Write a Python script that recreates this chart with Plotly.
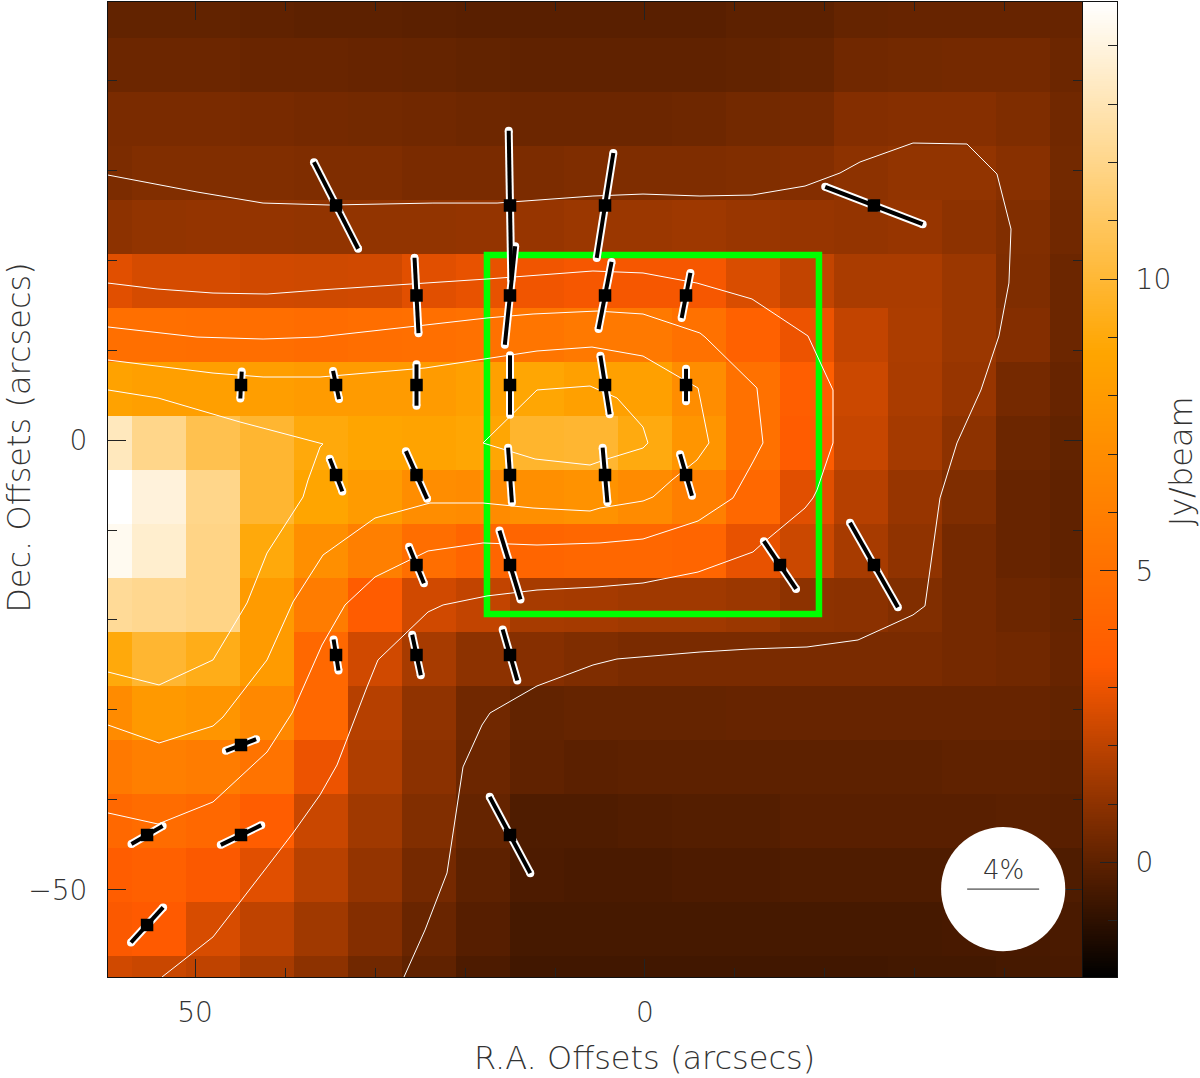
import numpy as np
import plotly.graph_objects as go

# map grid (arcsec), rows run top to bottom, columns left to right (R.A. increases to the left)
ra_centers = [60, 54, 48, 42, 36, 30, 24, 18, 12, 6, 0, -6, -12, -18, -24, -30, -36, -42, -48]
dec_centers = [47.67, 41.67, 35.67, 29.67, 23.67, 17.67, 11.67, 5.67, -0.33, -6.33, -12.33,
               -18.33, -24.33, -30.33, -36.33, -42.33, -48.33, -54.33, -60.33]

flux = [
    [0.1, 0.1, 0.1, 0.05, 0, 0, -0.05, -0.1, -0.1, -0.1, -0.1, -0.1, 0, 0, 0.15, 0.2, 0.2, 0.2, 0.2],
    [0.3, 0.3, 0.3, 0.25, 0.25, 0.2, 0.15, 0.1, 0.05, 0.05, 0.05, 0.05, 0.1, 0.15, 0.4, 0.45, 0.5, 0.5, 0.3],
    [0.6, 0.6, 0.6, 0.55, 0.5, 0.45, 0.4, 0.35, 0.3, 0.3, 0.3, 0.35, 0.45, 0.5, 0.8, 0.85, 0.85, 0.7, 0.4],
    [0.65, 0.75, 0.75, 0.75, 0.7, 0.7, 0.6, 0.6, 0.65, 0.7, 0.7, 0.7, 0.75, 0.8, 1.0, 1.1, 1.1, 0.9, 0.45],
    [1.0, 1.1, 1.15, 1.15, 1.1, 1.1, 1.1, 1.15, 1.2, 1.3, 1.3, 1.35, 1.25, 1.2, 1.15, 1.2, 1.0, 0.75, 0.4],
    [2.75, 2.5, 2.5, 2.4, 2.35, 2.4, 2.75, 2.9, 3.1, 3.2, 3.2, 3.2, 2.6, 2.1, 1.6, 1.6, 1.3, 0.7, 0.3],
    [4.9, 4.9, 4.8, 4.8, 4.7, 4.8, 4.9, 5.0, 5.3, 5.6, 5.6, 5.0, 3.9, 3.0, 2.1, 1.65, 1.3, 0.8, 0.3],
    [8.5, 8.3, 8.3, 8.2, 8.0, 8.0, 8.0, 8.4, 8.8, 8.4, 8.4, 7.0, 5.0, 3.7, 2.3, 1.6, 1.2, 0.5, 0.2],
    [13.2, 12.0, 10.6, 9.9, 9.0, 8.7, 8.6, 8.8, 9.8, 9.9, 9.1, 7.6, 5.0, 3.5, 2.2, 1.5, 1.0, 0.3, 0.1],
    [14.75, 13.9, 12.0, 9.9, 8.7, 8.0, 7.0, 6.9, 7.2, 7.4, 6.9, 6.0, 4.4, 2.75, 1.85, 1.2, 0.7, 0.2, 0.05],
    [14.4, 13.6, 11.9, 9.0, 7.2, 6.0, 4.8, 4.2, 4.2, 4.3, 4.3, 4.2, 2.9, 2.3, 1.55, 1.05, 0.5, 0.2, 0.05],
    [12.3, 12.1, 11.9, 8.0, 5.8, 3.5, 2.4, 2.1, 1.55, 1.5, 1.4, 1.4, 1.3, 1.0, 0.95, 0.75, 0.5, 0.3, 0.15],
    [9.0, 9.9, 9.3, 8.0, 4.4, 2.4, 1.55, 1.0, 0.85, 0.7, 0.6, 0.6, 0.6, 0.6, 0.6, 0.6, 0.5, 0.4, 0.2],
    [6.9, 7.9, 7.6, 6.7, 4.4, 1.85, 1.05, 0.4, 0.1, 0.15, 0.15, 0.15, 0.2, 0.2, 0.2, 0.2, 0.2, 0.2, 0.1],
    [5.6, 6.0, 5.8, 5.2, 3.0, 1.7, 0.95, 0.3, 0.05, -0.05, 0, 0, 0, 0, 0, 0, 0.05, 0.05, 0],
    [4.4, 4.7, 4.4, 3.6, 2.25, 1.4, 0.75, 0.15, -0.3, -0.3, -0.25, -0.2, -0.2, -0.1, -0.1, -0.1, -0.1, -0.05, -0.1],
    [3.6, 3.8, 3.3, 2.75, 1.9, 1.15, 0.5, 0, -0.35, -0.4, -0.4, -0.35, -0.35, -0.3, -0.3, -0.3, -0.3, -0.25, -0.3],
    [3.3, 3.4, 2.55, 2.05, 1.4, 0.8, 0.25, -0.15, -0.5, -0.5, -0.5, -0.5, -0.5, -0.5, -0.5, -0.5, -0.45, -0.45, -0.4],
    [2.4, 2.25, 2.05, 1.55, 1.0, 0.4, 0.05, -0.35, -0.6, -0.6, -0.6, -0.6, -0.6, -0.6, -0.6, -0.55, -0.55, -0.5, -0.45],
]

z_min, z_max = -1.96, 14.75
heat_colors = [[0, "#000000"], [0.32, "#ff5a00"], [0.64, "#ffa500"], [1, "#ffffff"]]

# contour polylines (arcsec)
c1_x = [59.67, 49.78, 42.44, 35.0, 23.56, 16.44, 5.78, 0.22, -6.11, -11.89, -17.78, -21.67, -23.89, -29.78,
        -35.78, -39.11, -40.67, -40.44, -39.33, -37.33, -34.67, -32.78, -31.11, -29.78, -23.67, -18.0, -11.67,
        -6.11, 3.11, 5.78, 12.0, 17.22, 18.11, 20.22, 22.0, 24.44, 26.78]
c1_y = [29.44, 27.56, 26.33, 26.11, 26.33, 26.33, 27.11, 27.33, 27.11, 27.22, 28.22, 29.67, 30.89, 33.0,
        32.89, 29.56, 23.44, 17.44, 11.56, 5.56, -0.33, -6.44, -18.44, -19.44, -22.22, -23.0, -23.22,
        -23.56, -24.33, -25.0, -27.33, -30.33, -31.67, -36.33, -48.11, -54.44, -59.67]
c2_x = [59.67, 54.22, 48.0, 42.0, 36.11, 26.11, 17.56, 5.78, 0.22, -5.78, -11.89, -18.11, -20.89, -20.89,
        -19.11, -18.67, -17.78, -13.11, -12.0, -5.89, 0.22, 5.33, 12.0, 17.56, 22.44, 24.11, 26.44, 29.67,
        30.89, 34.22, 36.11, 39.11, 42.0, 45.0, 48.0, 53.67]
c2_y = [17.44, 16.78, 16.33, 16.22, 16.67, 17.33, 17.89, 18.78, 18.56, 17.44, 15.67, 11.56, 5.56, -0.33,
        -5.56, -6.44, -7.56, -11.44, -12.44, -14.67, -15.89, -16.33, -16.67, -17.33, -18.33, -19.11, -21.33, -24.44,
        -27.44, -36.11, -39.44, -43.67, -47.44, -51.33, -55.22, -59.67]
c3_x = [59.67, 49.78, 42.44, 36.33, 25.33, 17.56, 12.44, 5.33, 0.22, -6.11, -6.67, -12.44, -13.11, -12.0,
        -9.78, -5.89, 0.22, 5.0, 12.0, 18.0, 24.11, 30.0, 33.33, 35.89, 39.22, 42.0, 48.0, 54.11, 59.67]
c3_y = [12.56, 11.44, 11.22, 11.44, 12.67, 13.56, 14.0, 14.33, 14.0, 11.89, 11.44, 5.78, -0.33, -2.44,
        -6.44, -9.0, -11.0, -11.44, -11.67, -11.44, -12.33, -15.22, -18.33, -22.78, -30.33, -34.67, -40.22, -42.67, -41.44]
c4_x = [59.67, 48.0, 42.44, 36.11, 24.44, 18.0, 12.0, 5.89, 0.22, -5.89, -7.11, -5.78, -3.0, -0.89, 0.22,
        5.0, 6.11, 12.44, 18.0, 23.89, 30.0, 35.78, 39.11, 42.0, 46.89, 48.0, 54.0, 59.67]
c4_y = [8.89, 7.44, 7.0, 7.0, 8.0, 9.0, 9.89, 10.33, 9.33, 5.78, -0.33, -2.22, -4.44, -6.33, -6.78,
        -7.56, -7.89, -7.56, -7.0, -7.0, -8.67, -12.78, -18.0, -24.44, -30.78, -31.78, -33.67, -31.67]
c5_x = [59.67, 54.11, 45.0, 35.78, 36.11, 37.44, 38.0, 42.0, 44.22, 48.0, 54.0, 59.67]
c5_y = [5.56, 4.67, 2.0, -0.44, -0.78, -4.44, -6.33, -12.56, -18.11, -24.44, -27.22, -25.78]
c6_x = [18.0, 12.0, 6.11, 3.11, 0.22, -0.33, 0.22, 4.22, 6.11, 12.22, 18.0]
c6_y = [-0.33, 5.56, 6.0, 4.67, 1.44, -0.33, -0.89, -2.11, -2.78, -2.11, -0.33]

# polarization vectors: position (arcsec), degree (%), position angle (deg, east of north)
pol_x = [34.33, 15, 4.44, -25.44,
         25.39, 15, 4.44, -4.56,
         44.89, 34.33, 25.39, 15, 4.44, -4.56,
         34.33, 25.39, 15, 4.44, -4.56,
         25.39, 15, -15, -25.44,
         34.33, 25.39, 15,
         44.89,
         55.33, 44.89, 15,
         55.33]
pol_y = [26.06, 26.06, 26.06, 26.06,
         16.06, 16.06, 16.06, 16.06,
         6.11, 6.11, 6.11, 6.11, 6.11, 6.11,
         -3.89, -3.89, -3.89, -3.89, -3.89,
         -13.89, -13.89, -13.89, -13.89,
         -23.89, -23.89, -23.89,
         -33.89,
         -43.89, -43.89, -43.89,
         -53.89]
pol_deg = [5.4, 8.3, 5.9, 5.8,
           4.2, 5.5, 3.8, 2.55,
           1.5, 1.6, 2.3, 3.3, 3.3, 1.8,
           1.95, 2.9, 3.05, 3.05, 2.4,
           2.2, 4.0, 3.2, 5.4,
           1.75, 2.3, 2.95,
           1.8,
           2.0, 2.5, 4.8,
           2.64]
pol_pa = [27, 1, -9, 69,
          3, -6, -11, -11,
          -3, 12, 0, 0, 9, 0,
          21, 24, 4, 5, 16,
          22, 17, 34, 29.5,
          9, 12, 16,
          -69,
          -60, -64, 28,
          -42.5]

# selected region (arcsec), path starts mid-edge so the corners join cleanly
box_x = [0, -19.33, -19.33, 17.56, 17.56, 0]
box_y = [20.56, 20.56, -19.33, -19.33, 20.56, 20.56]

fig = go.Figure()

fig.add_trace(go.Heatmap(x=ra_centers, y=dec_centers, z=flux, colorscale=heat_colors,
                         zmin=z_min, zmax=z_max, showscale=False, hoverinfo="skip"))

# box goes under the contours and vectors
fig.add_trace(go.Scatter(x=box_x, y=box_y, mode="lines", line=dict(color="#00ff00", width=6.5),
                         showlegend=False))

for cx, cy in [(c1_x, c1_y), (c2_x, c2_y), (c3_x, c3_y), (c4_x, c4_y), (c5_x, c5_y), (c6_x, c6_y)]:
    fig.add_trace(go.Scatter(x=cx, y=cy, mode="lines", line=dict(color="#ffffff", width=1),
                             showlegend=False))

# 1% of polarization is 2 arcsec long on the map
seg_x, seg_y = [], []
for x0, y0, deg, pa in zip(pol_x, pol_y, pol_deg, pol_pa):
    dx = deg * np.sin(np.radians(pa))
    dy = deg * np.cos(np.radians(pa))
    seg_x += [x0 + dx, x0 - dx, None]
    seg_y += [y0 + dy, y0 - dy, None]

fig.add_trace(go.Scatter(x=seg_x, y=seg_y, mode="lines+markers", line=dict(color="#ffffff", width=8),
                         marker=dict(color="#ffffff", size=8, symbol="circle"), showlegend=False))
fig.add_trace(go.Scatter(x=seg_x, y=seg_y, mode="lines", line=dict(color="#000000", width=4),
                         showlegend=False))
fig.add_trace(go.Scatter(x=pol_x, y=pol_y, mode="markers",
                         marker=dict(color="#000000", size=12.5, symbol="square"), showlegend=False))

# colour wedge as its own small heatmap so it can carry minor ticks
wedge_levels = np.linspace(z_min, z_max, 400)
fig.add_trace(go.Heatmap(x=[0], y=wedge_levels, z=[[v] for v in wedge_levels], colorscale=heat_colors,
                         zmin=z_min, zmax=z_max, showscale=False, hoverinfo="skip",
                         xaxis="x2", yaxis="y2"))

tick_font = dict(family="DejaVu Sans", size=28, color="#333333", weight=200)
title_font = dict(family="DejaVu Sans", size=32, color="#333333", weight=200)

# beam circle with the 4% scale bar
fig.add_shape(type="circle", x0=-32.9, x1=-46.7, y0=-56.8, y1=-43.0, fillcolor="#ffffff",
              line=dict(width=0), xref="x", yref="y")
fig.add_shape(type="line", x0=-35.8, x1=-43.8, y0=-49.9, y1=-49.9, line=dict(color="#222222", width=1),
              xref="x", yref="y")
fig.add_annotation(x=-39.8, y=-47.8, text="4%", showarrow=False,
                   font=dict(family="DejaVu Sans", size=26, color="#333333", weight=200), xref="x", yref="y")

fig.add_annotation(x=0, y=20 / 1078, text="R.A. Offsets (arcsecs)", showarrow=False, font=title_font,
                   xref="x", yref="paper", yanchor="middle")
fig.add_annotation(x=19.5 / 1200, y=0.3, text="Dec. Offsets (arcsecs)", showarrow=False, font=title_font,
                   textangle=-90, xref="paper", yref="y", xanchor="center")
fig.add_annotation(x=1180.5 / 1200, y=6.87, text="Jy/beam", showarrow=False, font=title_font,
                   textangle=-90, xref="paper", yref="y2", xanchor="center")

axis_style = dict(showgrid=False, zeroline=False, showline=True, linecolor="#111111", linewidth=1,
                  ticks="inside", ticklen=18, tickwidth=1, tickcolor="#222222", mirror="allticks",
                  tickfont=tick_font)
minor_style = dict(ticks="inside", ticklen=9, tickwidth=1, tickcolor="#222222", dtick=10, tick0=0)

fig.update_layout(
    width=1200,
    height=1078,
    margin=dict(l=0, r=0, t=0, b=0),
    paper_bgcolor="#ffffff",
    plot_bgcolor="#ffffff",
    showlegend=False,
    xaxis=dict(domain=[108 / 1200, 1082 / 1200], range=[59.67, -48.56], tick0=0, dtick=50, minor=minor_style,
               ticklabelstandoff=10, **axis_style),
    yaxis=dict(domain=[101 / 1078, 1076 / 1078], range=[-59.67, 48.67], tick0=0, dtick=50, minor=minor_style,
               ticklabelstandoff=14, **axis_style),
    xaxis2=dict(domain=[1083 / 1200, 1117 / 1200], range=[-0.5, 0.5], showticklabels=False, ticks="",
                showgrid=False, zeroline=False, showline=True, linecolor="#111111", linewidth=1, mirror=True,
                anchor="y2"),
    yaxis2=dict(domain=[101 / 1078, 1076 / 1078], range=[z_min, z_max], anchor="x2", side="right",
                tick0=0, dtick=5, ticks="inside", ticklen=17, tickwidth=1, tickcolor="#222222",
                minor=dict(ticks="inside", ticklen=9, tickwidth=1, tickcolor="#222222", dtick=1, tick0=0),
                showgrid=False, zeroline=False, showline=True, linecolor="#111111", linewidth=1, mirror=True,
                tickfont=tick_font, ticklabelstandoff=12),
)

# the default page margin would push the plot 8px off
fig.write_html("out.html", config={"displayModeBar": False},
               post_script="document.body.style.margin = '0';")
